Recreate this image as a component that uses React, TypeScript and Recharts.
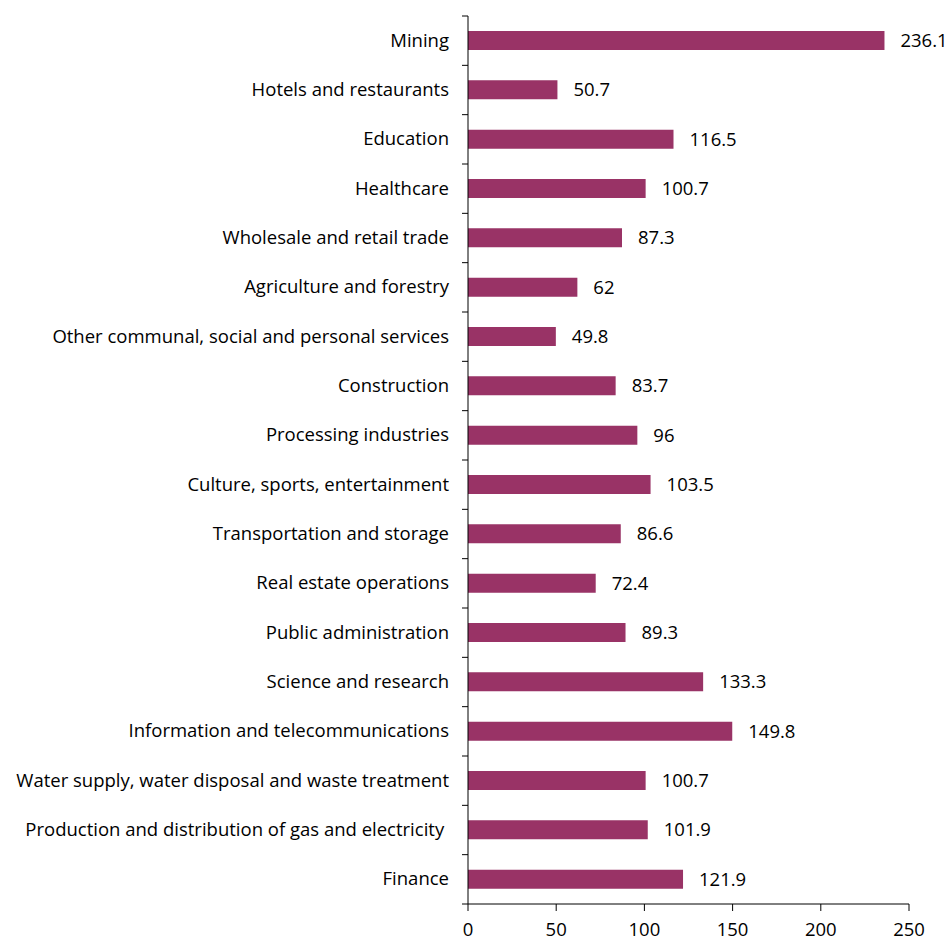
import React from "react";
import { BarChart, Bar, XAxis, YAxis, LabelList } from "recharts";

const categories = [
  "Mining",
  "Hotels and restaurants",
  "Education",
  "Healthcare",
  "Wholesale and retail trade",
  "Agriculture and forestry",
  "Other communal, social and personal services",
  "Construction",
  "Processing industries",
  "Culture, sports, entertainment",
  "Transportation and storage",
  "Real estate operations",
  "Public administration",
  "Science and research",
  "Information and telecommunications",
  "Water supply, water disposal and waste treatment",
  "Production and distribution of gas and electricity ",
  "Finance",
];

const values = [
  236.1, 50.7, 116.5, 100.7, 87.3, 62, 49.8, 83.7, 96, 103.5, 86.6, 72.4, 89.3,
  133.3, 149.8, 100.7, 101.9, 121.9,
];

const xTicks = [0, 50, 100, 150, 200, 250];

const data = categories.map((name, i) => ({ name, value: values[i] }));

const FONT = "'Open Sans', sans-serif";
const FS = 18.5;
const TOP = 16;
const PLOT_H = 888;
const BAND = PLOT_H / categories.length;

const YTick = (props: any) => {
  const { x, y, payload, index } = props;
  return (
    <g>
      <text
        x={x}
        y={y}
        dy={6}
        textAnchor="end"
        fill="#000"
        fontFamily={FONT}
        fontSize={FS}
        style={{ whiteSpace: "pre" }}
      >
        {payload.value}
      </text>
      <line x1={x + 13} x2={x + 19} y1={y - BAND / 2} y2={y - BAND / 2} stroke="#000" />
      {index === categories.length - 1 ? (
        <line x1={x + 13} x2={x + 19} y1={y + BAND / 2} y2={y + BAND / 2} stroke="#000" />
      ) : null}
    </g>
  );
};

export default function App() {
  return (
    <div style={{ position: "absolute", left: 0, top: 0, background: "#fff" }}>
      <BarChart
        width={950}
        height={940}
        data={data}
        layout="vertical"
        margin={{ top: TOP, right: 41, bottom: 0, left: 0 }}
        barSize={19}
      >
        <XAxis
          type="number"
          domain={[0, 250]}
          ticks={xTicks}
          height={36}
          axisLine={{ stroke: "#000" }}
          tickLine={{ stroke: "#000" }}
          tickSize={7}
          tickMargin={12}
          tick={{ fill: "#000", fontFamily: FONT, fontSize: FS }}
        />
        <YAxis
          type="category"
          dataKey="name"
          width={468}
          axisLine={{ stroke: "#000" }}
          tickLine={false}
          tickSize={0}
          tickMargin={19}
          interval={0}
          tick={<YTick />}
        />
        <Bar dataKey="value" fill="#993366" isAnimationActive={false}>
          <LabelList
            dataKey="value"
            position="right"
            offset={16}
            fill="#000"
            fontFamily={FONT}
            fontSize={FS}
          />
        </Bar>
      </BarChart>
    </div>
  );
}
